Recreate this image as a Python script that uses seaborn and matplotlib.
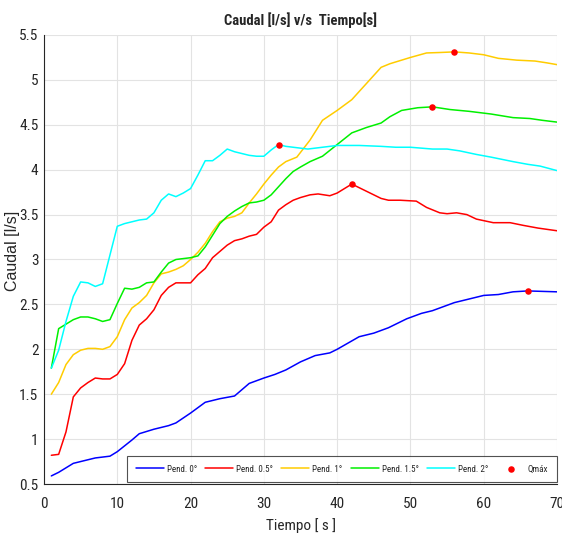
import numpy as np
import pandas as pd
import matplotlib
matplotlib.use("Agg")
import matplotlib.pyplot as plt
from matplotlib import font_manager
import seaborn as sns

# ---------------- data ----------------
t_p0 = [1, 2, 4, 5, 7, 9, 10, 12, 13, 15, 17, 18, 20, 22, 24, 26, 28, 30, 31.5, 33,
        35, 37, 39, 40, 41.5, 43, 45, 47, 49.5, 51.5, 53, 56, 58, 60, 62, 64, 66, 70]
q_p0 = [0.59, 0.63, 0.73, 0.75, 0.79, 0.81, 0.86, 0.99, 1.06, 1.11, 1.15, 1.18, 1.29, 1.41,
        1.45, 1.48, 1.62, 1.68, 1.72, 1.77, 1.86, 1.93, 1.96, 2.00, 2.07, 2.14, 2.18, 2.24,
        2.34, 2.40, 2.43, 2.52, 2.56, 2.60, 2.61, 2.64, 2.65, 2.64]

t_p05 = [1, 2, 3, 4, 5, 6, 7, 8, 9, 10, 11, 12, 13, 14, 15, 16, 17, 18, 20, 21, 22, 23, 24,
         25, 26, 27, 28, 29, 30, 31, 32, 33, 34, 35, 36.3, 37.4, 39, 40, 42, 44, 46, 47,
         48.6, 50.8, 52.2, 54, 55, 56.3, 57.7, 59, 61.3, 63.6, 65.4, 67.4, 70]
q_p05 = [0.82, 0.83, 1.08, 1.47, 1.57, 1.63, 1.68, 1.67, 1.67, 1.72, 1.84, 2.10, 2.27, 2.34,
         2.44, 2.60, 2.69, 2.74, 2.74, 2.83, 2.90, 3.02, 3.09, 3.16, 3.21, 3.23, 3.26, 3.28,
         3.36, 3.42, 3.55, 3.61, 3.66, 3.69, 3.72, 3.73, 3.71, 3.74, 3.84, 3.76, 3.68, 3.66,
         3.66, 3.65, 3.58, 3.52, 3.51, 3.52, 3.50, 3.45, 3.41, 3.41, 3.38, 3.35, 3.32]

t_p1 = [1, 2, 3, 4, 5, 6, 7, 8, 9, 10, 11, 12, 13, 14, 15, 16, 17, 18, 19, 20, 21, 22, 23,
        24, 25, 26, 27, 28, 29, 30, 31, 32, 33, 34.5, 36.3, 38, 40, 42, 44, 46, 47.2, 50,
        52.2, 54, 56, 58, 60, 62, 64.5, 67, 68.6, 70]
q_p1 = [1.50, 1.63, 1.83, 1.94, 1.99, 2.01, 2.01, 2.00, 2.03, 2.14, 2.33, 2.46, 2.52, 2.60,
        2.74, 2.84, 2.86, 2.89, 2.93, 3.00, 3.08, 3.18, 3.31, 3.42, 3.46, 3.48, 3.52, 3.63,
        3.73, 3.84, 3.94, 4.03, 4.09, 4.14, 4.33, 4.55, 4.66, 4.78, 4.96, 5.14, 5.18, 5.25,
        5.30, 5.305, 5.312, 5.30, 5.28, 5.24, 5.22, 5.21, 5.19, 5.17]

t_p15 = [1, 2, 3, 4, 5, 6, 7, 8, 9, 10, 11, 12, 13, 14, 15, 16, 17, 18, 20, 21, 22, 23, 24,
         25, 26, 27, 28, 29, 30, 31, 32, 33, 34, 35, 36.3, 38, 40, 42, 44, 46, 47.2, 48.8,
         51, 53, 55.4, 58, 61, 64, 66.3, 68, 70]
q_p15 = [1.79, 2.23, 2.28, 2.33, 2.36, 2.36, 2.34, 2.31, 2.33, 2.51, 2.68, 2.67, 2.69, 2.74,
         2.75, 2.86, 2.96, 3.00, 3.02, 3.04, 3.14, 3.27, 3.40, 3.48, 3.54, 3.59, 3.63, 3.64,
         3.66, 3.72, 3.81, 3.90, 3.98, 4.03, 4.09, 4.15, 4.28, 4.41, 4.47, 4.52, 4.59, 4.66,
         4.69, 4.70, 4.67, 4.65, 4.62, 4.58, 4.57, 4.55, 4.53]

t_p2 = [1, 2, 3, 4, 5, 6, 7, 8, 10, 11, 12, 13, 14, 15, 16, 17, 18, 19, 20, 21, 22, 23, 24,
        25, 26, 27, 28, 29, 30, 31, 32, 33, 36, 38, 40, 43, 46, 48, 50, 53, 55, 56.7, 59,
        61, 62.2, 64, 66, 67.7, 70]
q_p2 = [1.79, 1.99, 2.31, 2.59, 2.75, 2.74, 2.70, 2.73, 3.37, 3.40, 3.42, 3.44, 3.45, 3.52,
        3.66, 3.73, 3.70, 3.74, 3.79, 3.94, 4.10, 4.10, 4.16, 4.23, 4.20, 4.18, 4.16, 4.15,
        4.15, 4.22, 4.28, 4.26, 4.23, 4.25, 4.27, 4.27, 4.26, 4.25, 4.25, 4.23, 4.23, 4.21,
        4.17, 4.14, 4.12, 4.09, 4.06, 4.04, 3.99]

series_names = ["Pend. 0°", "Pend. 0.5°", "Pend. 1°", "Pend. 1.5°", "Pend. 2°"]
series_t = [t_p0, t_p05, t_p1, t_p15, t_p2]
series_q = [q_p0, q_p05, q_p1, q_p15, q_p2]
colors = ["#0000FF", "#FF0000", "#FFCC00", "#00F000", "#00FFFF"]
x_ticks = [0, 10, 20, 30, 40, 50, 60, 70]
y_ticks = [0.5, 1, 1.5, 2, 2.5, 3, 3.5, 4, 4.5, 5, 5.5]
y_tick_labels = ["0.5", "1", "1.5", "2", "2.5", "3", "3.5", "4", "4.5", "5", "5.5"]

# ---------------- frame ----------------
frames = []
for n, t, q in zip(series_names, series_t, series_q):
    frames.append(pd.DataFrame({"Tiempo": t, "Caudal": q, "Serie": n}))
df = pd.concat(frames, ignore_index=True)

peaks = []
for n, t, q in zip(series_names, series_t, series_q):
    i = int(np.argmax(q))
    peaks.append({"Tiempo": t[i], "Caudal": q[i]})
peaks = pd.DataFrame(peaks)

# ---------------- style ----------------
sns.set_style("white")
avail = {f.name for f in font_manager.fontManager.ttflist}
narrow = None
stretch = "normal"
for cand in ["Liberation Sans Narrow", "Arial Narrow", "Roboto Condensed",
             "Open Sans Condensed", "Noto Sans Condensed", "DejaVu Sans Condensed"]:
    if cand in avail:
        narrow = cand
        break
if narrow is None:
    cond = [f.name for f in font_manager.fontManager.ttflist
            if str(f.stretch) in ("condensed", "semi-condensed", "500", "ultra-condensed")]
    if "DejaVu Sans" in cond:
        narrow, stretch = "DejaVu Sans", "condensed"
scale = 1.0
if narrow is None:
    narrow = "Liberation Sans"
    scale = 0.86
plt.rcParams["font.family"] = ["Liberation Sans", "DejaVu Sans"]

fig = plt.figure(figsize=(5.62, 5.37), dpi=100)
ax = fig.add_axes([44 / 562, 53 / 537, 513 / 562, 449 / 537])

sns.lineplot(data=df, x="Tiempo", y="Caudal", hue="Serie", palette=colors,
             hue_order=series_names, sort=False, estimator=None, linewidth=1.1, ax=ax)
sns.scatterplot(data=peaks, x="Tiempo", y="Caudal", color="#FF0000", s=22,
                edgecolor="#FF0000", linewidth=0, ax=ax, label="Qmáx", zorder=5)

ax.set_xlim(0, 70)
ax.set_ylim(0.5, 5.5)
ax.set_xticks(x_ticks)
ax.set_yticks(y_ticks)
ax.set_yticklabels(y_tick_labels)
ax.grid(True, color="#E3E3E3", linewidth=0.8)
ax.set_axisbelow(True)
for s in ["top", "right"]:
    ax.spines[s].set_visible(False)
ax.spines["left"].set_color("#262626")
ax.spines["bottom"].set_color("#262626")
ax.spines["left"].set_linewidth(0.8)
ax.spines["bottom"].set_linewidth(0.8)
ax.tick_params(direction="in", length=4, width=0.8, color="#262626",
               labelsize=11 * scale, labelcolor="#262626", pad=4)
ax.tick_params(axis="x", pad=9)
for lab in ax.get_xticklabels() + ax.get_yticklabels():
    lab.set_family(narrow)
    lab.set_stretch(stretch)

ax.set_xlabel("Tiempo [ s ]", fontsize=11 * scale, family=narrow, stretch=stretch,
              color="#262626")
ax.xaxis.set_label_coords(0.5, -0.075)
ax.set_ylabel("Caudal [l/s]", fontsize=11.5, color="#262626")
ax.yaxis.set_label_coords(-0.046, 0.52)
ax.set_title("Caudal [l/s] v/s  Tiempo[s]", fontsize=10.5 * scale, fontweight="bold",
             family=narrow, stretch=stretch, pad=7)

leg = ax.legend(loc="lower right", bbox_to_anchor=(1.0, 0.004), ncol=6,
                prop={"family": narrow, "size": 6.5 * scale, "stretch": stretch},
                frameon=True, fancybox=False,
                edgecolor="#262626", handlelength=3.1, columnspacing=0.9,
                handletextpad=0.35, borderpad=0.95, borderaxespad=0.0)
leg.get_frame().set_linewidth(0.8)

fig.savefig("out.png", dpi=100)
